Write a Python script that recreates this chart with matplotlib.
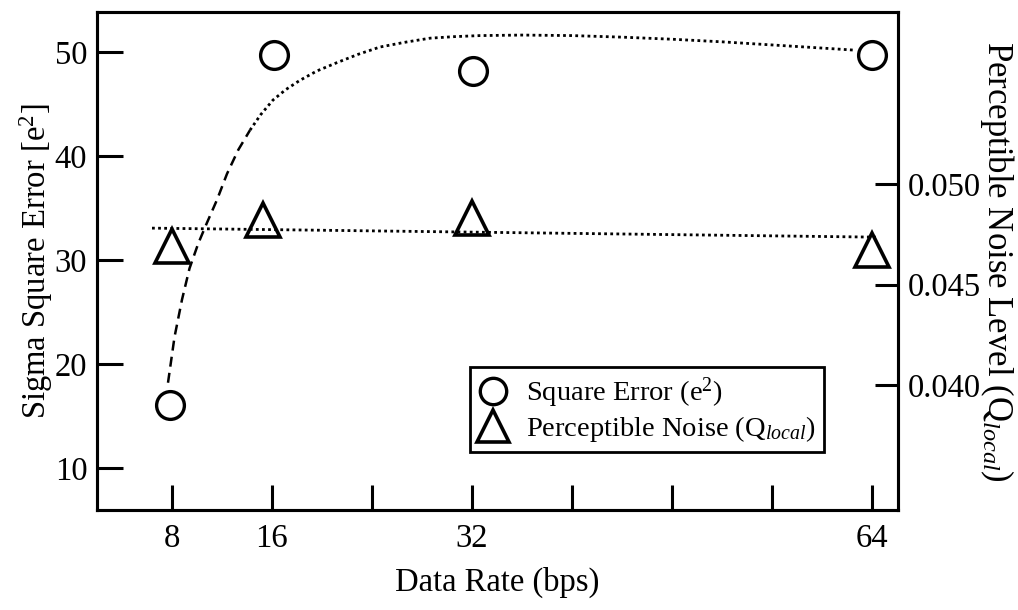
import numpy as np
import matplotlib
matplotlib.use("Agg")
import matplotlib.pyplot as plt
from matplotlib.ticker import FixedLocator, FuncFormatter

# data rate (bps) and measured values
rate_sq = [7.8, 16.2, 32.1, 64.0]
square_error = [16.1, 49.7, 48.2, 49.7]

rate_pn = [8.0, 15.3, 32.0, 64.0]
perceptible_noise = [0.0469, 0.0482, 0.0483, 0.0467]

# fitted trend for the square error (dashed low part, dotted upper part)
fit_x_low = [7.68, 8.2, 8.8, 9.4, 10.1, 10.8, 11.6, 12.4, 13.3, 14.24]
fit_y_low = [18.2, 22.6, 26.2, 29.2, 31.6, 33.6, 35.8, 38.3, 40.6, 42.5]
fit_x_high = [14.24, 15.1, 16.08, 17.1, 18.24, 19.6, 21.2, 22.9, 24.64, 26.6,
              28.64, 30.6, 32.64, 36.0, 40.0, 44.0, 48.0, 52.0, 56.0, 60.0, 62.6]
fit_y_high = [42.5, 44.0, 45.4, 46.4, 47.3, 48.2, 49.0, 49.8, 50.5, 50.95,
              51.35, 51.5, 51.6, 51.65, 51.6, 51.45, 51.25, 51.0, 50.7, 50.4, 50.2]

# flat trend for the perceptible noise
noise_fit_x = [6.4, 64.5]
noise_fit_y = [0.04781, 0.04736]

xticks = [8, 16, 24, 32, 40, 48, 56, 64]
xlabels_shown = [8, 16, 32, 64]

plt.rcParams['font.family'] = ['Liberation Serif', 'DejaVu Serif']
plt.rcParams['mathtext.fontset'] = 'custom'
plt.rcParams['mathtext.rm'] = 'Liberation Serif'
plt.rcParams['mathtext.it'] = 'Liberation Serif:italic'

fig = plt.figure(figsize=(10.18, 6.10), dpi=100)
ax = fig.add_axes([0.0953, 0.164, 0.787, 0.816])
ax2 = ax.twinx()

lw = 2.2
for a in (ax, ax2):
    for s in a.spines.values():
        s.set_linewidth(lw)

ax.plot(fit_x_low, fit_y_low, color='black', lw=1.8, linestyle=(0, (4, 2.5)))
ax.plot(fit_x_high, fit_y_high, color='black', lw=2.0, linestyle=(0, (1, 1.2)))
h1, = ax.plot(rate_sq, square_error, linestyle='none', marker='o', ms=20,
              mfc='white', mec='black', mew=2.4, label='Square Error (e$^2$)')

ax2.plot(noise_fit_x, noise_fit_y, color='black', lw=2.0, linestyle=(0, (1, 1.2)))
h2, = ax2.plot(rate_pn, perceptible_noise, linestyle='none', marker='^', ms=24,
               mfc='none', mec='black', mew=2.6,
               label='Perceptible Noise (Q$_{\\mathit{local}}$)')

ax.set_xlim(2, 66.1)
ax.set_ylim(5.96, 53.85)
ax2.set_ylim(0.03378, 0.05856)

ax.xaxis.set_major_locator(FixedLocator(xticks))
ax.xaxis.set_major_formatter(FuncFormatter(
    lambda v, p: f"{int(v)}" if int(round(v)) in xlabels_shown else ""))
ax.set_yticks([10, 20, 30, 40, 50])
ax2.set_yticks([0.040, 0.045, 0.050])
ax2.yaxis.set_major_formatter(FuncFormatter(lambda v, p: f"{v:.3f}"))

fs = 23.5
ax.tick_params(axis='x', direction='in', length=18, width=lw, pad=10,
               labelsize=fs, top=False)
ax.tick_params(axis='y', direction='in', length=18.5, width=lw, pad=7,
               labelsize=fs)
ax2.tick_params(axis='y', direction='in', length=16.5, width=lw, pad=7,
                labelsize=fs)

ax.set_xlabel('Data Rate (bps)', fontsize=fs, labelpad=9)
ax.set_ylabel('Sigma Square Error [e$^2$]', fontsize=fs, labelpad=0)
ax2.set_ylabel('Perceptible Noise Level (Q$_{\\mathit{local}}$)', fontsize=25,
               rotation=-90, labelpad=25)

leg = ax2.legend(handles=[h1, h2], loc='upper left', bbox_to_anchor=(0.466, 0.287),
                 fontsize=20.5, frameon=True, fancybox=False, framealpha=1,
                 handlelength=1.0, handletextpad=0.65, borderpad=0.3,
                 labelspacing=0.12, markerscale=0.95, borderaxespad=0)
leg.get_frame().set_edgecolor('black')
leg.get_frame().set_linewidth(2.0)

fig.savefig('out.png', dpi=100)
